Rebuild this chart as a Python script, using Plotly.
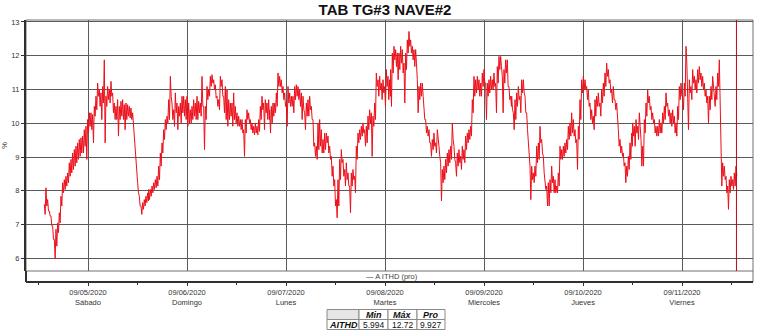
import plotly.graph_objects as go
from datetime import datetime, timedelta

title_text = "TAB TG#3 NAVE#2"
series_name = "A ITHD (pro)"
origin = datetime(2020, 9, 5)

# start of each read segment, in hours after 09/05/2020 00:00
seg_start_hours = [-10.59, 14.71, 44.04, 73.37, 102.71, 132.04]
sample_minutes = 24.24

seg0_hi = [7.6, 8.09, 7.74, 7.4, 7.25, 6.96, 6.56, 6.86, 7.05, 7.35, 7.84, 8.24, 8.33, 8.43, 8.53, 8.83, 8.93, 9.12, 9.22, 9.32,
           9.42, 9.52, 9.57, 9.62, 9.81, 9.91, 10.11, 10.31, 10.31, 10.26, 10.5, 10.8, 11.19, 10.99, 10.9, 11.09, 11.88, 10.8, 11.09, 10.99,
           11.24, 10.9, 10.6, 10.5, 10.7, 10.5, 10.65, 10.7, 10.55, 10.6, 10.55, 10.5, 10.45, 10.31, 9.81, 8.83, 8.24, 7.84, 7.55, 7.65,
           7.74, 7.84, 7.94]
seg0_lo = [7.3, 7.55, 7.4, 7.25, 6.96, 6.56, 5.99, 6.36, 6.76, 7.05, 7.55, 7.94, 8.04, 8.14, 8.24, 8.43, 8.53, 8.63, 8.73, 8.83,
           8.93, 9.02, 9.12, 9.12, 9.32, 8.93, 9.71, 9.91, 9.81, 9.42, 10.21, 10.4, 10.8, 10.5, 10.11, 10.6, 9.42, 10.5, 10.7, 10.6,
           10.8, 10.31, 10.11, 10.11, 9.62, 10.11, 10.21, 10.11, 9.81, 10.11, 10.21, 10.16, 10.11, 9.91, 9.32, 8.43, 7.94, 7.55, 7.3, 7.45,
           7.55, 7.65, 7.7]

seg1_hi = [8.04, 8.04, 8.14, 8.24, 8.33, 8.43, 8.73, 9.12, 9.42, 9.81, 10.11, 10.21, 10.7, 11.39, 10.6, 10.4, 10.9, 10.6, 10.5, 10.6,
           10.8, 10.8, 10.7, 10.8, 10.6, 10.4, 10.5, 10.7, 10.6, 10.8, 10.65, 10.6, 11.39, 10.5, 10.5, 11.09, 10.99, 11.39, 11.44, 11.29,
           11.14, 10.8, 10.7, 11.39, 11.29, 10.8, 11.09, 10.99, 10.7, 10.6, 10.6, 10.9, 10.5, 10.31, 10.21, 10.11, 10.11, 9.81, 10.11, 10.4,
           10.31, 10.11, 10.01, 9.91, 10.01, 9.91, 10.11, 10.5, 10.8, 10.6, 10.7, 10.6, 10.7]
seg1_lo = [7.74, 7.84, 7.94, 8.04, 8.09, 8.14, 8.33, 8.73, 9.12, 9.52, 9.81, 10.01, 10.11, 10.8, 10.11, 9.91, 10.31, 9.81, 10.21, 10.01,
           10.31, 10.21, 10.11, 9.91, 10.01, 10.01, 10.11, 10.21, 10.11, 10.11, 10.31, 10.21, 10.5, 9.22, 10.11, 10.7, 10.8, 11.09, 11.19, 10.99,
           10.75, 10.5, 10.4, 11.09, 10.8, 10.31, 10.11, 9.91, 10.11, 10.21, 9.91, 10.11, 10.01, 9.91, 9.91, 9.81, 9.71, 9.02, 9.71, 10.11,
           10.01, 9.81, 9.71, 9.66, 9.71, 9.66, 9.76, 10.11, 10.4, 9.81, 10.31, 10.11, 10.11]

seg2_hi = [10.4, 10.5, 10.6, 10.6, 10.9, 11.49, 11.39, 11.29, 11.09, 10.9, 10.6, 11.09, 10.9, 10.8, 10.8, 11.09, 11.14, 11.09, 10.99, 10.9,
           10.8, 10.31, 10.6, 10.7, 10.8, 10.5, 10.11, 9.42, 9.32, 10.01, 10.11, 9.81, 9.52, 9.71, 9.71, 9.62, 9.32, 9.02, 8.73, 8.33,
           7.74, 8.33, 8.93, 9.22, 8.93, 8.63, 8.83, 8.53, 8.14, 8.53, 8.63, 8.43, 9.32, 9.71, 9.81, 9.91, 10.01, 9.81, 9.91, 10.21,
           10.4, 10.31, 10.21, 10.6, 11.49, 11.29, 11.39, 11.19, 11.29, 11.09, 11.59, 11.39, 11.29]
seg2_lo = [9.71, 10.01, 10.21, 10.31, 10.5, 11.09, 11.09, 10.9, 10.7, 10.5, 9.91, 10.6, 10.5, 10.5, 10.31, 10.7, 10.8, 10.7, 10.5, 10.11,
           10.4, 9.81, 10.21, 10.21, 10.4, 10.11, 9.32, 9.02, 8.93, 9.22, 9.32, 9.12, 9.12, 9.22, 9.42, 9.12, 8.93, 8.43, 8.14, 7.55,
           7.2, 7.55, 8.33, 8.83, 8.43, 8.14, 8.33, 8.14, 7.35, 8.14, 8.33, 7.94, 8.93, 9.42, 9.52, 9.62, 9.71, 9.32, 9.42, 9.81,
           10.01, 9.02, 9.91, 10.11, 11.09, 10.8, 10.99, 10.7, 10.9, 10.5, 11.09, 10.7, 10.8]

seg3_hi = [11.59, 12.08, 12.28, 12.18, 12.08, 12.08, 12.28, 12.18, 11.78, 12.08, 12.47, 12.72, 12.47, 12.28, 12.18, 12.18, 11.29, 11.09, 11.19, 11.19,
           10.5, 10.11, 9.91, 9.81, 9.42, 9.52, 9.71, 9.42, 9.81, 9.32, 8.83, 8.63, 8.73, 8.93, 9.12, 9.22, 9.32, 10.01, 9.32, 8.83,
           9.12, 9.22, 9.02, 9.32, 9.22, 9.62, 9.71, 9.81, 9.91, 10.7, 11.39, 11.29, 11.39, 11.29, 11.19, 11.49, 11.59, 11.19, 11.19, 11.29,
           11.39, 11.29, 11.49, 11.19, 11.68, 11.98, 11.98, 11.39, 11.59, 11.88, 11.88, 11.09, 10.8]
seg3_lo = [10.5, 11.49, 11.88, 11.68, 11.29, 11.59, 11.78, 11.49, 10.6, 11.59, 12.08, 12.28, 12.08, 11.88, 11.68, 11.78, 10.31, 10.7, 10.8, 10.8,
           10.11, 9.71, 9.62, 9.42, 9.02, 9.22, 9.32, 9.12, 9.42, 9.02, 7.7, 8.24, 8.33, 8.53, 8.73, 8.83, 8.93, 9.52, 8.93, 8.43,
           8.73, 8.83, 8.63, 8.93, 8.83, 9.22, 9.42, 9.52, 9.62, 10.31, 10.8, 10.9, 10.99, 10.8, 10.8, 11.09, 11.19, 10.11, 10.8, 10.9,
           10.99, 10.99, 11.09, 10.31, 11.19, 11.59, 11.68, 10.31, 11.19, 11.49, 11.09, 10.7, 10.5]

seg4_hi = [10.8, 10.31, 10.7, 10.9, 11.09, 10.8, 11.29, 11.29, 10.8, 10.31, 9.52, 8.73, 8.73, 8.53, 8.73, 9.32, 9.42, 9.91, 9.52, 9.02,
           8.33, 8.14, 8.24, 8.33, 8.73, 8.43, 8.33, 8.14, 8.53, 9.32, 9.22, 9.32, 9.42, 9.52, 9.91, 10.01, 10.31, 10.11, 9.81, 9.52,
           9.91, 10.7, 11.29, 11.39, 11.29, 11.09, 10.99, 10.6, 10.4, 10.21, 10.7, 10.8, 10.9, 10.6, 10.99, 11.19, 11.49, 11.78, 11.59, 11.29,
           10.99, 11.09, 10.7, 10.6, 9.81, 9.52, 9.32, 9.12, 8.83, 8.73, 9.02, 9.42, 9.71]
seg4_lo = [10.4, 9.81, 10.11, 10.5, 10.7, 10.31, 10.9, 10.9, 10.31, 9.81, 9.12, 7.74, 8.33, 8.24, 8.43, 8.83, 8.93, 9.42, 9.12, 8.53,
           8.04, 7.55, 7.55, 7.94, 8.24, 7.94, 7.94, 7.94, 8.14, 8.93, 8.93, 9.02, 9.12, 9.22, 9.52, 9.62, 9.71, 9.62, 9.42, 8.63,
           9.52, 10.11, 10.9, 10.99, 10.99, 10.7, 10.5, 10.11, 10.01, 9.81, 10.21, 10.5, 10.5, 10.21, 10.6, 10.8, 11.09, 11.39, 11.19, 10.9,
           10.6, 10.7, 10.4, 10.31, 9.32, 9.12, 9.02, 8.73, 8.24, 8.43, 8.63, 8.93, 9.32]

seg5_hi = [10.01, 9.91, 10.11, 9.91, 10.31, 9.52, 9.32, 10.11, 10.6, 10.99, 10.8, 10.5, 10.31, 10.11, 9.91, 9.91, 10.11, 10.01, 10.31, 10.5,
           10.9, 10.6, 10.4, 10.31, 10.4, 10.21, 10.01, 10.5, 11.09, 11.19, 10.8, 11.19, 12.28, 10.8, 11.29, 11.09, 11.59, 11.39, 11.29, 11.59,
           11.68, 11.49, 11.39, 11.19, 10.99, 10.8, 10.8, 11.09, 11.39, 10.9, 11.09, 11.49, 11.88, 8.93, 8.83, 8.73, 8.43, 8.14, 8.33, 8.43,
           8.33, 8.53, 8.73]
seg5_lo = [9.62, 9.32, 9.71, 9.52, 9.91, 8.73, 8.73, 9.71, 10.21, 10.6, 10.4, 10.11, 10.01, 9.71, 9.62, 9.62, 9.71, 9.71, 10.01, 10.11,
           10.5, 10.21, 10.01, 9.91, 10.01, 9.71, 9.62, 10.11, 10.7, 10.8, 10.4, 10.8, 11.78, 9.81, 10.9, 10.7, 11.19, 10.99, 10.9, 11.19,
           11.29, 11.09, 10.99, 10.8, 10.6, 10.01, 10.4, 10.7, 10.99, 10.5, 10.7, 11.09, 10.6, 8.14, 8.43, 8.33, 7.94, 7.45, 7.94, 8.14,
           8.04, 8.14, 8.43]

marker_hours = 157.2  # red cursor line on 09/11

day_dates = ["09/05/2020", "09/06/2020", "09/07/2020", "09/08/2020", "09/09/2020", "09/10/2020", "09/11/2020"]
day_names = ["Sábado", "Domingo", "Lunes", "Martes", "Miercoles", "Jueves", "Viernes"]
y_ticks = [6, 7, 8, 9, 10, 11, 12, 13]

stats_header = ["", "Min", "Máx", "Pro"]
stats_row = ["AITHD", "5.994", "12.72", "9.927"]

# ---- build series ----
segments = [(seg0_hi, seg0_lo), (seg1_hi, seg1_lo), (seg2_hi, seg2_lo),
            (seg3_hi, seg3_lo), (seg4_hi, seg4_lo), (seg5_hi, seg5_lo)]
xs, ys = [], []
for (hi, lo), h0 in zip(segments, seg_start_hours):
    t0 = origin + timedelta(hours=h0)
    for i, (a, b) in enumerate(zip(hi, lo)):
        t = t0 + timedelta(minutes=i * sample_minutes)
        xs.append(t)
        ys.append(a)
        xs.append(t + timedelta(minutes=sample_minutes / 2))
        ys.append(b)

W, H = 762, 334
ML, MR, MT, MB = 26, 9, 20, 0
pw, ph = W - ML - MR, H - MT - MB

def py(px):  # pixel row -> paper y
    return (H - MB - px) / ph

def pxx(px):
    return (px - ML) / pw

FONT = "Liberation Sans, Arial, sans-serif"
GRID = "#5a5a5a"
AX = "#303030"

fig = go.Figure()
fig.add_trace(go.Scatter(x=xs, y=ys, mode="lines", name=series_name, showlegend=False,
                         line=dict(color="#ec0f1a", width=1), hoverinfo="skip"))

tickvals = [origin + timedelta(days=i) for i in range(len(day_dates))]
ticktext = ["%s<br>%s" % (d, n) for d, n in zip(day_dates, day_names)]
noon_vals = [origin + timedelta(days=i - 0.5) for i in range(len(day_dates) + 1)]

x_left = origin + timedelta(hours=(ML - 88) / 99 * 24)
x_right = origin + timedelta(hours=(W - MR - 88) / 99 * 24)

shapes = [
    dict(type="rect", xref="paper", yref="paper", x0=0, x1=1, y0=py(282), y1=1,
         line=dict(color="#707070", width=1), layer="below"),
    dict(type="line", xref="x domain", yref="y domain", x0=0, x1=1, y0=0, y1=0,
         line=dict(color="#707070", width=1)),
    dict(type="line", xref="paper", yref="paper", x0=0, x1=0, y0=py(282), y1=py(271),
         line=dict(color=AX, width=2)),
    dict(type="line", xref="x", yref="y domain",
         x0=origin + timedelta(hours=marker_hours), x1=origin + timedelta(hours=marker_hours),
         y0=0, y1=1, line=dict(color="#c00010", width=1)),
]
annotations = [
    dict(text="— " + series_name, xref="paper", yref="paper", x=pxx(392), y=py(276.5),
         xanchor="center", yanchor="middle", showarrow=False,
         font=dict(family=FONT, size=7.5, color="#444")),
]

# statistics table (small boxed grid under the chart)
col_edges = [327, 359, 388, 417, 445]
row_edges = [309.5, 319.5, 329.5]
table_rows = [stats_header, stats_row]
for r, cells in enumerate(table_rows):
    for c, txt in enumerate(cells):
        x0, x1 = col_edges[c], col_edges[c + 1]
        y0, y1 = row_edges[r], row_edges[r + 1]
        fill = "#e6e6e6" if (r == 0 and c == 0) else "white"
        shapes.append(dict(type="rect", xref="paper", yref="paper",
                           x0=pxx(x0), x1=pxx(x1), y0=py(y1), y1=py(y0),
                           line=dict(color="#8a8a8a", width=1), fillcolor=fill))
        if not txt:
            continue
        bold = (r == 0) or (c == 0)
        label = "<b><i>%s</i></b>" % txt if bold else txt
        annotations.append(dict(text=label, xref="paper", yref="paper",
                                x=pxx((x0 + x1) / 2), y=py((y0 + y1) / 2 + 0.5),
                                xanchor="center", yanchor="middle", showarrow=False,
                                font=dict(family=FONT, size=9 if bold else 8.5, color="#111")))

fig.update_layout(
    template="none",
    width=W, height=H,
    margin=dict(l=ML, r=MR, t=MT, b=MB, pad=0),
    paper_bgcolor="white", plot_bgcolor="white",
    title=dict(text="<b>%s</b>" % title_text, x=385 / W, xanchor="center", y=1 - 10 / H, yanchor="middle",
               font=dict(family=FONT, size=15, color="#111")),
    xaxis=dict(type="date", range=[x_left, x_right], anchor="free", position=py(282),
               showline=True, linecolor=AX, linewidth=2, ticks="outside", ticklen=3, tickcolor=AX,
               tickmode="array", tickvals=tickvals, ticktext=ticktext,
               showgrid=True, gridcolor=GRID, gridwidth=1, zeroline=False, automargin=False,
               tickfont=dict(family=FONT, size=7.5, color="#333"),
               minor=dict(tickmode="array", tickvals=noon_vals, ticks="outside", ticklen=2, tickcolor=AX, showgrid=False)),
    yaxis=dict(domain=[py(271), 1], range=[5.624, 13.059], showline=True, linecolor=AX, linewidth=2,
               ticks="outside", ticklen=3, tickcolor=AX, tickmode="array", tickvals=y_ticks,
               showgrid=True, gridcolor=GRID, gridwidth=1, zeroline=False, automargin=False,
               tickfont=dict(family=FONT, size=7.5, color="#333"),
               title=dict(text="%", font=dict(family=FONT, size=7.5, color="#333"), standoff=4)),
    shapes=shapes,
    annotations=annotations,
)

fig.write_html("out.html")
